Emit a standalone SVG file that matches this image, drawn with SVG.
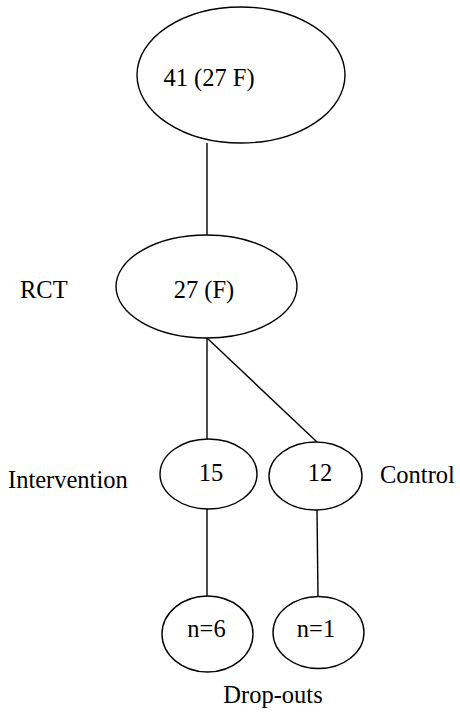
<svg xmlns="http://www.w3.org/2000/svg" width="460" height="713" viewBox="0 0 460 713">
<style>
.n{fill:#fff;stroke:#000;stroke-width:1.4}
.c line{stroke:#000;stroke-width:1.4}
text{font-family:"Liberation Serif","Times New Roman",serif;font-size:24.5px;fill:#000}
.m{text-anchor:middle}
</style>
<rect width="460" height="713" fill="#fff"/>
<g class="c" id="connectors">
<line x1="207" y1="143" x2="207" y2="235"/>
<line x1="207" y1="338" x2="207" y2="439"/>
<line x1="207" y1="338" x2="317" y2="442"/>
<line x1="207" y1="509" x2="207" y2="596"/>
<line x1="317" y1="510" x2="318" y2="597"/>
</g>
<g id="n41"><ellipse class="n" cx="241" cy="75" rx="104" ry="68"/><text class="m" x="209" y="86">41 (27 F)</text></g>
<g id="rct"><ellipse class="n" cx="206.5" cy="286.5" rx="90.5" ry="51.5"/><text class="m" x="204" y="298">27 (F)</text></g>
<g id="rctlabel"><text x="20" y="298">RCT</text></g>
<g id="n15"><ellipse class="n" cx="208.5" cy="474" rx="48.5" ry="35"/><text class="m" x="211" y="481">15</text></g>
<g id="n12"><ellipse class="n" cx="315.5" cy="476" rx="46.5" ry="34"/><text class="m" x="320" y="481">12</text></g>
<g id="intlabel"><text x="8" y="488">Intervention</text></g>
<g id="ctrllabel"><text x="380" y="483">Control</text></g>
<g id="n6"><ellipse class="n" cx="207.5" cy="634" rx="45.5" ry="38"/><text class="m" x="206.5" y="637">n=6</text></g>
<g id="n1"><ellipse class="n" cx="318.5" cy="632.5" rx="45.5" ry="36"/><text class="m" x="316" y="637">n=1</text></g>
<g id="dropouts"><text class="m" x="273" y="703">Drop-outs</text></g>
</svg>
